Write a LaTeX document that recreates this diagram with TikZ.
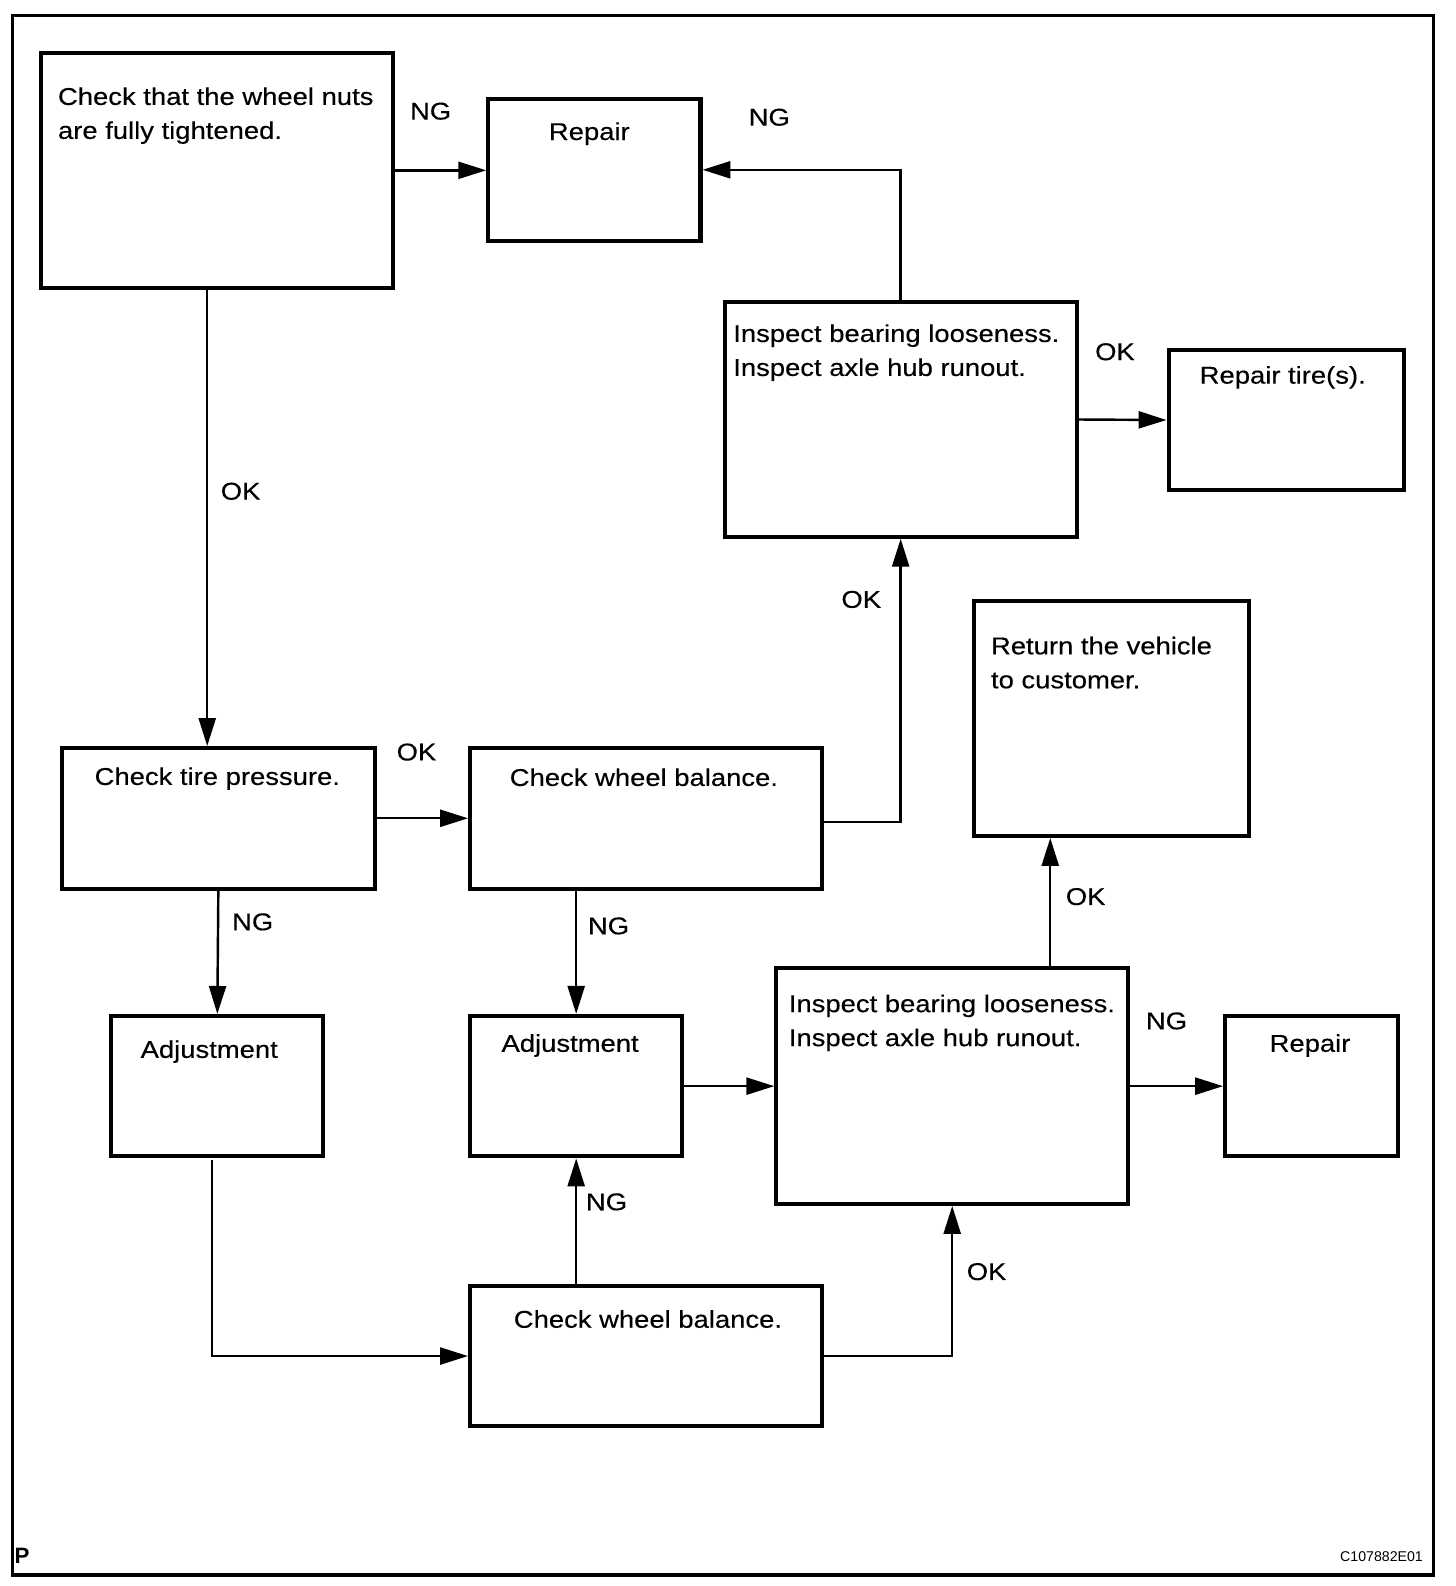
\documentclass[tikz,border=0pt]{standalone}
\usepackage{fontspec}
\setmainfont{Liberation Sans}[FakeStretch=1.13,FakeBold=0.3]
\newfontfamily\plainfont{Liberation Sans}
\usetikzlibrary{arrows.meta,calc}
\newcommand\mkbox[5]{\node[box, minimum width={(#4-#2)*0.5pt}, minimum height={(#5-#3)*0.5pt}] (#1) at ({(#2+#4)/2},{(#3+#5)/2}) {};}
\begin{document}
\begin{tikzpicture}[x=0.5pt,y=-0.5pt,
  box/.style={draw, line width=2pt, inner sep=0pt},
  conn/.style={line width=1.2pt, -{Triangle[length=13.8pt,width=8.4pt]}},
  txt/.style={inner sep=0pt, font=\fontsize{12}{16.8}\selectfont},
  lbl/.style={inner sep=0pt, font=\fontsize{12}{14}\selectfont}]
\useasboundingbox (0,0) rectangle (1440,1569);
\draw[line width=1.6pt] (12,15) rectangle (1418,1558);
% boxes
\mkbox{B1}{41}{52}{389}{285}
\mkbox{R1}{483}{98}{693}{238}
\mkbox{I1}{717}{299}{1065}{531}
\mkbox{RT}{1156}{346}{1389}{485}
\mkbox{RV}{964}{595}{1236}{827}
\mkbox{CTP}{61}{740}{371}{879}
\mkbox{CWB1}{465}{740}{813}{879}
\mkbox{A1}{110}{1005}{320}{1144}
\mkbox{A2}{465}{1005}{675}{1144}
\mkbox{I2}{768}{958}{1116}{1191}
\mkbox{R2}{1212}{1005}{1383}{1144}
\mkbox{CWB2}{465}{1272}{813}{1411}
% texts
\node[txt, align=left, anchor=north west] (tB1) at (57,86) {Check that the wheel nuts\\are fully tightened.};
\node[txt, anchor=base] (tR1) at (583,138.5) {Repair};
\node[txt, align=left, anchor=north west] (tI1) at (725,320.5) {Inspect bearing looseness.\\Inspect axle hub runout.};
\node[txt, anchor=base] (tRT) at (1269,379.5) {Repair tire(s).};
\node[txt, align=left, anchor=north west] (tRV) at (980,629.5) {Return the vehicle\\to customer.};
\node[txt, anchor=base] (tCTP) at (215,776.5) {Check tire pressure.};
\node[txt, anchor=base] (tCWB1) at (637,777.5) {Check wheel balance.};
\node[txt, anchor=base] (tA1) at (207,1046.5) {Adjustment};
\node[txt, anchor=base] (tA2) at (564,1040.5) {Adjustment};
\node[txt, align=left, anchor=north west] (tI2) at (780,983.5) {Inspect bearing looseness.\\Inspect axle hub runout.};
\node[txt, anchor=base] (tR2) at (1296,1040.5) {Repair};
\node[txt, anchor=base] (tCWB2) at (641,1313.5) {Check wheel balance.};
% helper coordinates
\coordinate (x205) at (205,0);
\coordinate (x210) at (210,0);
\coordinate (x1039) at (1039,0);
\coordinate (y813) at (0,813);
\coordinate (y1148) at (0,1148);
% connectors
\draw[conn] (B1.east) -- (B1.east -| R1.west);
\draw[conn] (I1.north) |- (R1.east);
\draw[conn] (I1.east) -- (RT.west);
\draw[conn] (B1.south -| x205) -- (CTP.north -| x205);
\draw[conn] (CTP.east) -- (CWB1.west);
\draw[conn] (CWB1.east |- y813) -| (I1.south);
\draw[conn] (CTP.south) -- (A1.north);
\draw[conn] (CWB1.south -| A2.north) -- (A2.north);
\draw[conn] (A2.east) -- (I2.west);
\draw[conn] (I2.north -| x1039) -- (RV.south -| x1039);
\draw[conn] (I2.east) -- (R2.west);
\draw[conn] (x210 |- y1148) |- (CWB2.west);
\draw[conn] (CWB2.north -| A2.south) -- (A2.south);
\draw[conn] (CWB2.east) -| (I2.south);
% labels
\node[lbl] (l1) at (426,110) {NG};
\node[lbl] (l2) at (761,116) {NG};
\node[lbl] (l3) at (1103,348) {OK};
\node[lbl] (l4) at (238,486) {OK};
\node[lbl] (l5) at (412,744) {OK};
\node[lbl] (l6) at (852,593) {OK};
\node[lbl] (l7) at (250,912) {NG};
\node[lbl] (l8) at (602,916) {NG};
\node[lbl] (l9) at (1074,887) {OK};
\node[lbl] (l10) at (1154,1010) {NG};
\node[lbl] (l11) at (600,1189) {NG};
\node[lbl] (l12) at (976,1258) {OK};
\node[inner sep=0pt, anchor=base west, font=\plainfont\fontsize{11}{13}\selectfont\bfseries] (pP) at (14,1547) {P};
\node[inner sep=0pt, anchor=base east, font=\plainfont\fontsize{7}{9}\selectfont] (code) at (1408,1545) {C107882E01};
\end{tikzpicture}
\end{document}
